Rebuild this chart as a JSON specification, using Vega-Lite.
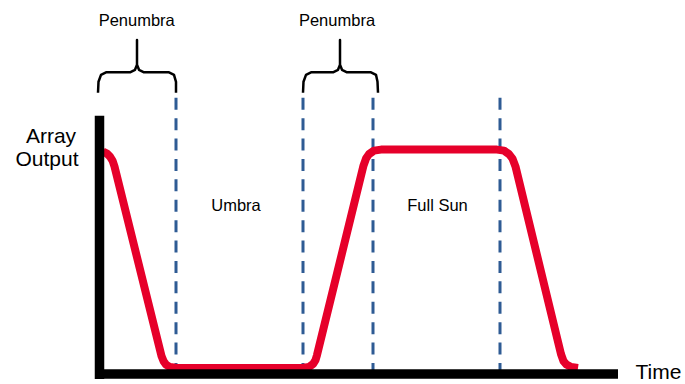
{
  "$schema": "https://vega.github.io/schema/vega-lite/v6.json",
  "width": 685,
  "height": 384,
  "padding": 0,
  "autosize": {"type": "fit", "contains": "padding"},
  "config": {"view": {"stroke": null}},
  "datasets": {
    "output": [
      {"t": 3, "v": 223}, {"t": 7, "v": 221}, {"t": 10, "v": 218}, {"t": 12.5, "v": 214}, {"t": 14.5, "v": 208},
      {"t": 61.5, "v": 18}, {"t": 63.5, "v": 13}, {"t": 66, "v": 9.5}, {"t": 70, "v": 7}, {"t": 77, "v": 6},
      {"t": 202, "v": 6}, {"t": 209, "v": 7}, {"t": 213, "v": 10}, {"t": 215.5, "v": 14}, {"t": 217, "v": 19},
      {"t": 263.5, "v": 209}, {"t": 266, "v": 216}, {"t": 269, "v": 220.5}, {"t": 274, "v": 224}, {"t": 281, "v": 225},
      {"t": 397, "v": 225}, {"t": 404, "v": 224}, {"t": 409, "v": 220.5}, {"t": 412.5, "v": 216}, {"t": 415.5, "v": 208},
      {"t": 461, "v": 20}, {"t": 463.5, "v": 13}, {"t": 466.5, "v": 9.5}, {"t": 471, "v": 7}, {"t": 478, "v": 6}
    ],
    "axes": [
      {"t": -0.5, "v": -5, "t2": -0.5, "v2": 259, "name": "vertical"},
      {"t": -5, "v": 0, "t2": 518, "v2": 0, "name": "horizontal"}
    ],
    "bounds": [
      {"t": 76, "v": 277, "v2": 3},
      {"t": 203, "v": 277, "v2": 3},
      {"t": 273, "v": 277, "v2": 3},
      {"t": 400, "v": 277, "v2": 3}
    ],
    "braces": [
      {"id": 1, "o": 1, "t": -2, "v": 282}, {"id": 1, "o": 2, "t": -1.5, "v": 293}, {"id": 1, "o": 3, "t": 1, "v": 300},
      {"id": 1, "o": 4, "t": 6, "v": 302.5}, {"id": 1, "o": 5, "t": 30, "v": 302.5}, {"id": 1, "o": 6, "t": 35, "v": 305},
      {"id": 1, "o": 7, "t": 37, "v": 310}, {"id": 1, "o": 8, "t": 37, "v": 335}, {"id": 1, "o": 9, "t": 37, "v": 310},
      {"id": 1, "o": 10, "t": 39, "v": 305}, {"id": 1, "o": 11, "t": 44, "v": 302.5}, {"id": 1, "o": 12, "t": 69, "v": 302.5},
      {"id": 1, "o": 13, "t": 74, "v": 300}, {"id": 1, "o": 14, "t": 76, "v": 293}, {"id": 1, "o": 15, "t": 76, "v": 282},
      {"id": 2, "o": 1, "t": 203, "v": 282}, {"id": 2, "o": 2, "t": 203.5, "v": 293}, {"id": 2, "o": 3, "t": 206, "v": 300},
      {"id": 2, "o": 4, "t": 211, "v": 302.5}, {"id": 2, "o": 5, "t": 233, "v": 302.5}, {"id": 2, "o": 6, "t": 238, "v": 305},
      {"id": 2, "o": 7, "t": 240, "v": 310}, {"id": 2, "o": 8, "t": 240, "v": 335}, {"id": 2, "o": 9, "t": 240, "v": 310},
      {"id": 2, "o": 10, "t": 242, "v": 305}, {"id": 2, "o": 11, "t": 247, "v": 302.5}, {"id": 2, "o": 12, "t": 271, "v": 302.5},
      {"id": 2, "o": 13, "t": 276, "v": 300}, {"id": 2, "o": 14, "t": 277.5, "v": 293}, {"id": 2, "o": 15, "t": 278, "v": 282}
    ],
    "regionLabels": [
      {"t": 36.7, "v": 349, "label": "Penumbra"},
      {"t": 237, "v": 349, "label": "Penumbra"},
      {"t": 136, "v": 163, "label": "Umbra"},
      {"t": 337.5, "v": 163, "label": "Full Sun"}
    ],
    "axisLabels": [
      {"t": -49, "v": 232, "label": "Array"},
      {"t": -53, "v": 209, "label": "Output"},
      {"t": 558.5, "v": -5, "label": "Time"}
    ]
  },
  "encoding": {
    "x": {"field": "t", "type": "quantitative", "scale": {"domain": [-100, 585], "nice": false, "zero": false}, "axis": null},
    "y": {"field": "v", "type": "quantitative", "scale": {"domain": [-9, 375], "nice": false, "zero": false}, "axis": null}
  },
  "layer": [
    {
      "data": {"name": "bounds"},
      "mark": {"type": "rule", "color": "#2E5B94", "strokeWidth": 3, "strokeDash": [12, 8.4]},
      "encoding": {"y2": {"field": "v2"}}
    },
    {
      "data": {"name": "output"},
      "mark": {"type": "line", "color": "#E6002A", "strokeWidth": 8, "interpolate": "linear", "strokeJoin": "round"},
      "encoding": {}
    },
    {
      "data": {"name": "axes"},
      "mark": {"type": "rule", "color": "#000000", "strokeWidth": 9.5, "strokeCap": "butt"},
      "encoding": {"x2": {"field": "t2"}, "y2": {"field": "v2"}}
    },
    {
      "data": {"name": "braces"},
      "mark": {"type": "line", "color": "#000000", "strokeWidth": 2.5, "interpolate": "linear", "strokeJoin": "round"},
      "encoding": {"detail": {"field": "id"}, "order": {"field": "o", "type": "quantitative"}}
    },
    {
      "data": {"name": "regionLabels"},
      "mark": {"type": "text", "font": "Liberation Sans", "fontSize": 16.5, "align": "center", "baseline": "alphabetic", "color": "#000000"},
      "encoding": {"text": {"field": "label"}}
    },
    {
      "data": {"name": "axisLabels"},
      "mark": {"type": "text", "font": "Liberation Sans", "fontSize": 21, "align": "center", "baseline": "alphabetic", "color": "#000000"},
      "encoding": {"text": {"field": "label"}}
    }
  ]
}
